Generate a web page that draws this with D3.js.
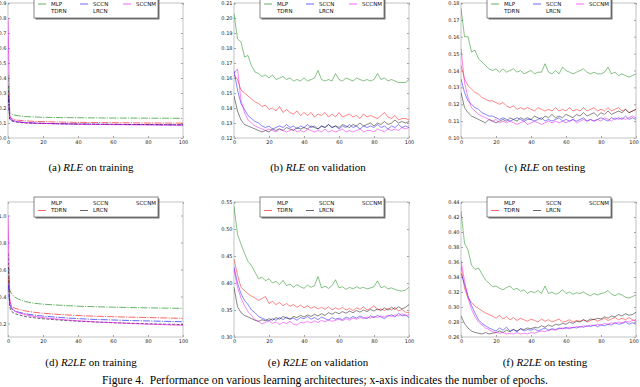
<!DOCTYPE html>
<html>
<head>
<meta charset="utf-8">
<script src="https://cdn.jsdelivr.net/npm/d3@7"></script>
<style>
  body { margin: 0; background: #fff; }
  svg { display: block; }
  .tick text { font-family: "DejaVu Sans", sans-serif; font-size: 5px; fill: #222; }
  .tick line { stroke: #444; stroke-width: 0.5; }
  .legend text { font-family: "DejaVu Sans", sans-serif; font-size: 5.5px; fill: #111; }
  .caption { font-family: "Liberation Serif", "Times New Roman", serif; font-size: 11px; fill: #000; }
</style>
</head>
<body>
<svg width="640" height="387"></svg>
<script>
// ---- data ----
var seriesNames = ["MLP", "TDRN", "SCCN", "LRCN", "SCCNM"];
var seriesColors = ["#008000", "#ff0000", "#0000ff", "#000000", "#ee00ee"];

var epochsTrain = [0, 1, 2, 3, 4, 6, 8, 10, 15, 20, 30, 40, 50, 60, 70, 80, 90, 100];
var epochsEval = [0, 2, 4, 6, 8, 10, 12, 14, 16, 18, 20, 22, 24, 26, 28, 30, 32, 34, 36, 38, 40,
  42, 44, 46, 48, 50, 52, 54, 56, 58, 60, 62, 64, 66, 68, 70, 72, 74, 76, 78, 80,
  82, 84, 86, 88, 90, 92, 94, 96, 98, 100];

var xTicks = [0, 20, 40, 60, 80, 100];

// (a) RLE on training
var mlpA   = [0.42, 0.17, 0.160, 0.155, 0.152, 0.148, 0.145, 0.143, 0.140, 0.138, 0.136, 0.135, 0.134, 0.133, 0.133, 0.132, 0.132, 0.131];
var tdrnA  = [0.30, 0.14, 0.130, 0.125, 0.122, 0.118, 0.116, 0.114, 0.111, 0.109, 0.106, 0.104, 0.103, 0.102, 0.101, 0.100, 0.100, 0.099];
var sccnA  = [0.28, 0.13, 0.120, 0.115, 0.112, 0.108, 0.105, 0.103, 0.100, 0.098, 0.095, 0.093, 0.092, 0.091, 0.090, 0.089, 0.088, 0.087];
var lrcnA  = [0.35, 0.125, 0.115, 0.110, 0.107, 0.104, 0.102, 0.100, 0.098, 0.097, 0.095, 0.093, 0.092, 0.091, 0.090, 0.090, 0.089, 0.088];
var sccnmA = [0.80, 0.15, 0.125, 0.117, 0.113, 0.108, 0.104, 0.102, 0.099, 0.097, 0.094, 0.092, 0.090, 0.089, 0.088, 0.087, 0.086, 0.085];

// (b) RLE on validation
var mlpB = [0.203, 0.186, 0.184, 0.174, 0.175, 0.168, 0.164, 0.163, 0.161, 0.162, 0.160, 0.162, 0.159, 0.160, 0.161, 0.159, 0.160, 0.158, 0.159, 0.158, 0.160,
  0.158, 0.159, 0.160, 0.165, 0.159, 0.158, 0.159, 0.158, 0.163, 0.159, 0.158, 0.160, 0.159, 0.158, 0.160, 0.159, 0.158, 0.159, 0.158, 0.159,
  0.163, 0.159, 0.160, 0.158, 0.159, 0.158, 0.157, 0.157, 0.157, 0.159];
var tdrnB = [0.162, 0.159, 0.152, 0.150, 0.148, 0.146, 0.144, 0.143, 0.141, 0.142, 0.139, 0.140, 0.138, 0.141, 0.137, 0.139, 0.137, 0.136, 0.138, 0.135, 0.137,
  0.135, 0.137, 0.134, 0.136, 0.135, 0.137, 0.134, 0.136, 0.134, 0.137, 0.134, 0.135, 0.136, 0.134, 0.135, 0.133, 0.136, 0.134, 0.135, 0.134,
  0.133, 0.135, 0.137, 0.134, 0.133, 0.135, 0.132, 0.133, 0.133, 0.132];
var sccnB = [0.165, 0.152, 0.143, 0.139, 0.135, 0.133, 0.131, 0.130, 0.128, 0.127, 0.128, 0.126, 0.127, 0.128, 0.127, 0.129, 0.127, 0.128, 0.126, 0.128, 0.127,
  0.129, 0.127, 0.128, 0.126, 0.128, 0.127, 0.129, 0.127, 0.128, 0.126, 0.128, 0.127, 0.129, 0.127, 0.128, 0.126, 0.128, 0.127, 0.128, 0.127,
  0.129, 0.127, 0.128, 0.126, 0.128, 0.127, 0.129, 0.127, 0.128, 0.127];
var lrcnB = [0.148, 0.138, 0.132, 0.129, 0.128, 0.127, 0.126, 0.125, 0.124, 0.125, 0.124, 0.126, 0.125, 0.126, 0.125, 0.127, 0.126, 0.125, 0.127, 0.126, 0.127,
  0.126, 0.128, 0.127, 0.126, 0.128, 0.127, 0.129, 0.127, 0.128, 0.127, 0.129, 0.128, 0.127, 0.129, 0.128, 0.130, 0.128, 0.129, 0.130, 0.128,
  0.130, 0.129, 0.131, 0.129, 0.130, 0.132, 0.130, 0.131, 0.130, 0.131];
var sccnmB = [0.163, 0.166, 0.145, 0.137, 0.132, 0.130, 0.128, 0.127, 0.126, 0.125, 0.126, 0.125, 0.124, 0.126, 0.125, 0.124, 0.125, 0.126, 0.124, 0.125, 0.124,
  0.126, 0.125, 0.124, 0.125, 0.124, 0.126, 0.124, 0.125, 0.124, 0.125, 0.126, 0.124, 0.125, 0.124, 0.125, 0.126, 0.124, 0.125, 0.125, 0.124,
  0.126, 0.125, 0.124, 0.126, 0.125, 0.126, 0.125, 0.127, 0.126, 0.127];

// (c) RLE on testing
var mlpC = [0.177, 0.160, 0.160, 0.151, 0.152, 0.147, 0.145, 0.143, 0.141, 0.140, 0.141, 0.139, 0.141, 0.139, 0.140, 0.141, 0.139, 0.140, 0.138, 0.139, 0.140,
  0.138, 0.139, 0.139, 0.144, 0.139, 0.138, 0.140, 0.138, 0.142, 0.140, 0.139, 0.138, 0.139, 0.140, 0.141, 0.139, 0.138, 0.139, 0.138, 0.138,
  0.139, 0.142, 0.138, 0.139, 0.137, 0.138, 0.137, 0.136, 0.137, 0.138];
var tdrnC = [0.143, 0.135, 0.131, 0.129, 0.127, 0.126, 0.124, 0.123, 0.122, 0.122, 0.121, 0.120, 0.121, 0.119, 0.118, 0.119, 0.117, 0.118, 0.117, 0.118, 0.117,
  0.116, 0.118, 0.117, 0.116, 0.117, 0.116, 0.118, 0.116, 0.117, 0.116, 0.118, 0.116, 0.117, 0.116, 0.118, 0.116, 0.117, 0.118, 0.116, 0.117,
  0.116, 0.118, 0.116, 0.117, 0.118, 0.116, 0.117, 0.115, 0.116, 0.117];
var sccnC = [0.135, 0.127, 0.122, 0.120, 0.118, 0.117, 0.115, 0.114, 0.113, 0.113, 0.112, 0.111, 0.112, 0.111, 0.110, 0.111, 0.112, 0.111, 0.110, 0.111, 0.111,
  0.110, 0.111, 0.112, 0.110, 0.111, 0.110, 0.111, 0.112, 0.110, 0.111, 0.110, 0.111, 0.110, 0.111, 0.112, 0.110, 0.111, 0.110, 0.111, 0.112,
  0.111, 0.110, 0.112, 0.111, 0.112, 0.111, 0.113, 0.111, 0.112, 0.111];
var lrcnC = [0.127, 0.118, 0.115, 0.113, 0.112, 0.111, 0.110, 0.109, 0.111, 0.110, 0.109, 0.110, 0.111, 0.110, 0.112, 0.111, 0.110, 0.112, 0.111, 0.112, 0.111,
  0.113, 0.112, 0.111, 0.113, 0.112, 0.114, 0.112, 0.113, 0.112, 0.114, 0.113, 0.112, 0.114, 0.113, 0.115, 0.113, 0.114, 0.115, 0.113, 0.115,
  0.114, 0.116, 0.114, 0.115, 0.116, 0.115, 0.117, 0.115, 0.116, 0.117];
var sccnmC = [0.153, 0.133, 0.124, 0.118, 0.116, 0.114, 0.113, 0.112, 0.111, 0.110, 0.111, 0.109, 0.110, 0.109, 0.110, 0.109, 0.108, 0.109, 0.110, 0.108, 0.109,
  0.110, 0.109, 0.108, 0.109, 0.110, 0.109, 0.110, 0.109, 0.110, 0.109, 0.110, 0.111, 0.109, 0.110, 0.111, 0.110, 0.111, 0.110, 0.111, 0.110,
  0.112, 0.111, 0.110, 0.112, 0.111, 0.112, 0.111, 0.112, 0.113, 0.112];

// (d) R2LE on training
var mlpD   = [0.62, 0.45, 0.42, 0.405, 0.395, 0.38, 0.37, 0.362, 0.35, 0.343, 0.335, 0.328, 0.324, 0.321, 0.318, 0.316, 0.314, 0.312];
var tdrnD  = [0.55, 0.36, 0.33, 0.32, 0.313, 0.305, 0.298, 0.293, 0.283, 0.276, 0.266, 0.259, 0.254, 0.250, 0.247, 0.244, 0.241, 0.238];
var sccnD  = [0.50, 0.34, 0.31, 0.30, 0.293, 0.285, 0.278, 0.272, 0.262, 0.255, 0.244, 0.236, 0.230, 0.226, 0.222, 0.219, 0.216, 0.213];
var lrcnD  = [0.72, 0.32, 0.29, 0.28, 0.273, 0.265, 0.258, 0.252, 0.242, 0.235, 0.225, 0.217, 0.211, 0.206, 0.202, 0.198, 0.195, 0.192];
var sccnmD = [1.00, 0.38, 0.32, 0.30, 0.29, 0.28, 0.272, 0.265, 0.252, 0.243, 0.230, 0.220, 0.212, 0.206, 0.200, 0.195, 0.191, 0.187];

// (e) R2LE on validation
var mlpE = [0.542, 0.490, 0.472, 0.455, 0.440, 0.432, 0.420, 0.408, 0.411, 0.404, 0.408, 0.400, 0.403, 0.397, 0.405, 0.395, 0.398, 0.392, 0.397, 0.393, 0.390,
  0.396, 0.392, 0.395, 0.412, 0.391, 0.394, 0.390, 0.395, 0.406, 0.391, 0.393, 0.388, 0.392, 0.389, 0.393, 0.390, 0.392, 0.389, 0.391, 0.393,
  0.404, 0.391, 0.394, 0.389, 0.391, 0.388, 0.386, 0.385, 0.387, 0.392];
var tdrnE = [0.444, 0.415, 0.392, 0.386, 0.380, 0.376, 0.372, 0.368, 0.371, 0.375, 0.362, 0.366, 0.360, 0.364, 0.358, 0.362, 0.357, 0.360, 0.355, 0.359, 0.354,
  0.358, 0.353, 0.356, 0.352, 0.355, 0.351, 0.356, 0.350, 0.354, 0.351, 0.355, 0.350, 0.353, 0.349, 0.354, 0.351, 0.356, 0.350, 0.353, 0.358,
  0.350, 0.352, 0.349, 0.353, 0.350, 0.355, 0.348, 0.351, 0.346, 0.345];
var sccnE = [0.430, 0.400, 0.380, 0.368, 0.360, 0.350, 0.345, 0.338, 0.335, 0.332, 0.330, 0.334, 0.331, 0.336, 0.332, 0.337, 0.333, 0.335, 0.331, 0.336, 0.334,
  0.338, 0.333, 0.336, 0.332, 0.337, 0.334, 0.331, 0.336, 0.333, 0.335, 0.332, 0.337, 0.334, 0.338, 0.335, 0.339, 0.336, 0.334, 0.339, 0.336,
  0.340, 0.337, 0.334, 0.339, 0.341, 0.337, 0.344, 0.339, 0.341, 0.336];
var lrcnE = [0.392, 0.356, 0.345, 0.340, 0.337, 0.334, 0.331, 0.329, 0.332, 0.330, 0.334, 0.331, 0.336, 0.333, 0.338, 0.335, 0.333, 0.338, 0.336, 0.340, 0.337,
  0.341, 0.338, 0.342, 0.339, 0.343, 0.340, 0.345, 0.342, 0.346, 0.343, 0.347, 0.344, 0.348, 0.345, 0.349, 0.346, 0.350, 0.347, 0.351, 0.348,
  0.352, 0.349, 0.354, 0.350, 0.355, 0.351, 0.356, 0.352, 0.355, 0.360];
var sccnmE = [0.425, 0.392, 0.372, 0.358, 0.347, 0.340, 0.332, 0.329, 0.324, 0.327, 0.330, 0.325, 0.328, 0.323, 0.327, 0.325, 0.329, 0.324, 0.322, 0.327, 0.326,
  0.329, 0.326, 0.330, 0.327, 0.331, 0.328, 0.332, 0.329, 0.331, 0.333, 0.330, 0.334, 0.331, 0.335, 0.333, 0.336, 0.334, 0.337, 0.335, 0.338,
  0.336, 0.339, 0.337, 0.340, 0.338, 0.341, 0.339, 0.343, 0.340, 0.341];

// (f) R2LE on testing
var mlpF = [0.428, 0.385, 0.376, 0.356, 0.350, 0.352, 0.344, 0.336, 0.332, 0.327, 0.328, 0.325, 0.323, 0.326, 0.328, 0.323, 0.325, 0.321, 0.323, 0.318, 0.321,
  0.319, 0.322, 0.318, 0.328, 0.318, 0.320, 0.317, 0.319, 0.323, 0.318, 0.320, 0.317, 0.319, 0.318, 0.320, 0.317, 0.315, 0.318, 0.316, 0.318,
  0.319, 0.322, 0.317, 0.315, 0.318, 0.316, 0.313, 0.312, 0.314, 0.316];
var tdrnF = [0.355, 0.325, 0.312, 0.306, 0.301, 0.298, 0.295, 0.292, 0.290, 0.288, 0.285, 0.289, 0.284, 0.287, 0.283, 0.286, 0.282, 0.285, 0.283, 0.281, 0.284,
  0.282, 0.280, 0.284, 0.281, 0.283, 0.280, 0.282, 0.284, 0.280, 0.281, 0.283, 0.280, 0.282, 0.281, 0.283, 0.280, 0.282, 0.284, 0.281, 0.283,
  0.285, 0.282, 0.284, 0.286, 0.283, 0.285, 0.283, 0.286, 0.283, 0.281];
var sccnF = [0.345, 0.330, 0.315, 0.302, 0.292, 0.283, 0.278, 0.275, 0.272, 0.270, 0.268, 0.272, 0.269, 0.273, 0.268, 0.270, 0.267, 0.271, 0.268, 0.270, 0.269,
  0.271, 0.268, 0.270, 0.272, 0.269, 0.271, 0.270, 0.272, 0.271, 0.273, 0.271, 0.273, 0.272, 0.274, 0.273, 0.275, 0.274, 0.276, 0.274, 0.276,
  0.275, 0.277, 0.276, 0.279, 0.277, 0.278, 0.280, 0.277, 0.279, 0.277];
var lrcnF = [0.288, 0.278, 0.272, 0.268, 0.266, 0.265, 0.264, 0.266, 0.264, 0.265, 0.266, 0.268, 0.266, 0.269, 0.267, 0.270, 0.268, 0.271, 0.270, 0.272, 0.271,
  0.273, 0.272, 0.275, 0.273, 0.276, 0.274, 0.277, 0.276, 0.278, 0.277, 0.280, 0.278, 0.281, 0.280, 0.283, 0.281, 0.284, 0.283, 0.285, 0.284,
  0.287, 0.285, 0.288, 0.287, 0.290, 0.288, 0.291, 0.289, 0.290, 0.293];
var sccnmF = [0.362, 0.335, 0.312, 0.297, 0.287, 0.280, 0.276, 0.272, 0.270, 0.267, 0.266, 0.265, 0.266, 0.264, 0.265, 0.264, 0.266, 0.264, 0.265, 0.264, 0.266,
  0.265, 0.267, 0.268, 0.267, 0.269, 0.270, 0.269, 0.271, 0.272, 0.271, 0.273, 0.272, 0.274, 0.273, 0.275, 0.274, 0.276, 0.275, 0.277, 0.276,
  0.278, 0.277, 0.279, 0.278, 0.280, 0.279, 0.281, 0.280, 0.282, 0.283];

var yTicksA = [0.0, 0.1, 0.2, 0.3, 0.4, 0.5, 0.6, 0.7, 0.8, 0.9];
var yTicksB = [0.12, 0.13, 0.14, 0.15, 0.16, 0.17, 0.18, 0.19, 0.20, 0.21];
var yTicksC = [0.10, 0.11, 0.12, 0.13, 0.14, 0.15, 0.16, 0.17, 0.18];
var yTicksD = [0.2, 0.4, 0.6, 0.8, 1.0];
var yTicksE = [0.30, 0.35, 0.40, 0.45, 0.50, 0.55];
var yTicksF = [0.26, 0.28, 0.30, 0.32, 0.34, 0.36, 0.38, 0.40, 0.42, 0.44];

var captionTags = ["(a)", "(b)", "(c)", "(d)", "(e)", "(f)"];
var captionMetrics = ["RLE", "RLE", "RLE", "R2LE", "R2LE", "R2LE"];
var captionSets = ["on training", "on validation", "on testing", "on training", "on validation", "on testing"];
var figureCaption = "Figure 4.  Performance on various learning architectures; x-axis indicates the number of epochs.";

// legend samples that show up in each row of the figure
var legendShownTop = ["MLP", "SCCN", "SCCNM"];
var legendShownBottom = ["TDRN", "LRCN"];

var panels = [
  {epochs: epochsTrain, values: [mlpA, tdrnA, sccnA, lrcnA, sccnmA], y: [0, 0.9], ticks: yTicksA, fmt: ".1f", train: true},
  {epochs: epochsEval, values: [mlpB, tdrnB, sccnB, lrcnB, sccnmB], y: [0.12, 0.21], ticks: yTicksB, fmt: ".2f"},
  {epochs: epochsEval, values: [mlpC, tdrnC, sccnC, lrcnC, sccnmC], y: [0.10, 0.18], ticks: yTicksC, fmt: ".2f"},
  {epochs: epochsTrain, values: [mlpD, tdrnD, sccnD, lrcnD, sccnmD], y: [0.1, 1.1], ticks: yTicksD, fmt: ".1f", train: true},
  {epochs: epochsEval, values: [mlpE, tdrnE, sccnE, lrcnE, sccnmE], y: [0.30, 0.55], ticks: yTicksE, fmt: ".2f"},
  {epochs: epochsEval, values: [mlpF, tdrnF, sccnF, lrcnF, sccnmF], y: [0.26, 0.44], ticks: yTicksF, fmt: ".2f"}
];

// ---- layout ----
var colX = [8, 234, 461];
var rowY = [3, 202];
var pw = 175, ph = 135;
var captionX = [91, 318, 545];
var captionY = [170.5, 365.5];
var trainDash = ["7,1.2,1.2,1.2", "7,1.2,1.2,1.2", "7,1.2,1.2,1.2", "3,1.5", null];

var svg = d3.select("svg");

panels.forEach(function(p, i) {
  var col = i % 3, row = Math.floor(i / 3);
  var g = svg.append("g").attr("transform", "translate(" + colX[col] + "," + rowY[row] + ")");

  var x = d3.scaleLinear().domain([0, 100]).range([0, pw]);
  var y = d3.scaleLinear().domain(p.y).range([ph, 0]);

  g.append("clipPath").attr("id", "clip" + i)
    .append("rect").attr("width", pw).attr("height", ph);

  // axes with inward ticks on all sides
  var bottom = g.append("g").attr("transform", "translate(0," + ph + ")")
    .call(d3.axisBottom(x).tickValues(xTicks).tickFormat(d3.format("d")).tickSizeInner(-2).tickSizeOuter(0).tickPadding(2));
  if (col === 2) {
    // last label sits on the page edge
    bottom.selectAll(".tick:last-of-type text").attr("text-anchor", "end").attr("dx", "0.45em");
  }
  g.append("g")
    .call(d3.axisTop(x).tickValues(xTicks).tickFormat("").tickSizeInner(-2).tickSizeOuter(0));
  g.append("g")
    .call(d3.axisLeft(y).tickValues(p.ticks).tickFormat(d3.format(p.fmt)).tickSizeInner(-2).tickSizeOuter(0).tickPadding(1.5));
  g.append("g").attr("transform", "translate(" + pw + ",0)")
    .call(d3.axisRight(y).tickValues(p.ticks).tickFormat("").tickSizeInner(-2).tickSizeOuter(0));
  g.selectAll(".domain").remove();

  g.append("rect").attr("width", pw).attr("height", ph)
    .attr("fill", "none").attr("stroke", "#b5b5b5").attr("stroke-width", 0.8);

  var line = d3.line()
    .x(function(d, k) { return x(p.epochs[k]); })
    .y(function(d) { return y(d); });

  var lines = g.append("g").attr("clip-path", "url(#clip" + i + ")");
  p.values.forEach(function(vals, s) {
    lines.append("path")
      .attr("d", line(vals))
      .attr("fill", "none")
      .attr("stroke", seriesColors[s])
      .attr("stroke-opacity", 0.6)
      .attr("stroke-width", p.train ? 1 : 0.8)
      .attr("stroke-dasharray", p.train ? trainDash[s] : null);
  });

  // legend (ncol = 3, column-major order)
  var shown = row === 0 ? legendShownTop : legendShownBottom;
  var lg = g.append("g").attr("class", "legend").attr("transform", "translate(26,-5)");
  lg.append("rect").attr("x", 1.5).attr("y", 1.5).attr("width", 124).attr("height", 20).attr("fill", "#777");
  lg.append("rect").attr("width", 124).attr("height", 20).attr("fill", "#fff").attr("stroke", "#555").attr("stroke-width", 0.7);
  var legCols = [4, 46, 89];
  seriesNames.forEach(function(name, s) {
    var lx = legCols[Math.floor(s / 2)], ly = s % 2 === 0 ? 6 : 13.5;
    if (shown.indexOf(name) >= 0) {
      lg.append("line").attr("x1", lx).attr("x2", lx + 8).attr("y1", ly).attr("y2", ly)
        .attr("stroke", seriesColors[s]).attr("stroke-opacity", 0.6).attr("stroke-width", 1);
    }
    lg.append("text").attr("x", lx + 13).attr("y", ly).attr("dy", "0.35em").text(name);
  });

  // sub caption
  var cap = svg.append("text").attr("class", "caption")
    .attr("x", captionX[col]).attr("y", captionY[row]).attr("text-anchor", "middle");
  cap.append("tspan").text(captionTags[i] + " ");
  cap.append("tspan").attr("font-style", "italic").text(captionMetrics[i]);
  cap.append("tspan").text(" " + captionSets[i]);
});

svg.append("text").attr("class", "caption")
  .attr("x", 325).attr("y", 384).attr("text-anchor", "middle")
  .style("font-size", "11.6px")
  .attr("xml:space", "preserve")
  .text(figureCaption);
</script>
</body>
</html>
